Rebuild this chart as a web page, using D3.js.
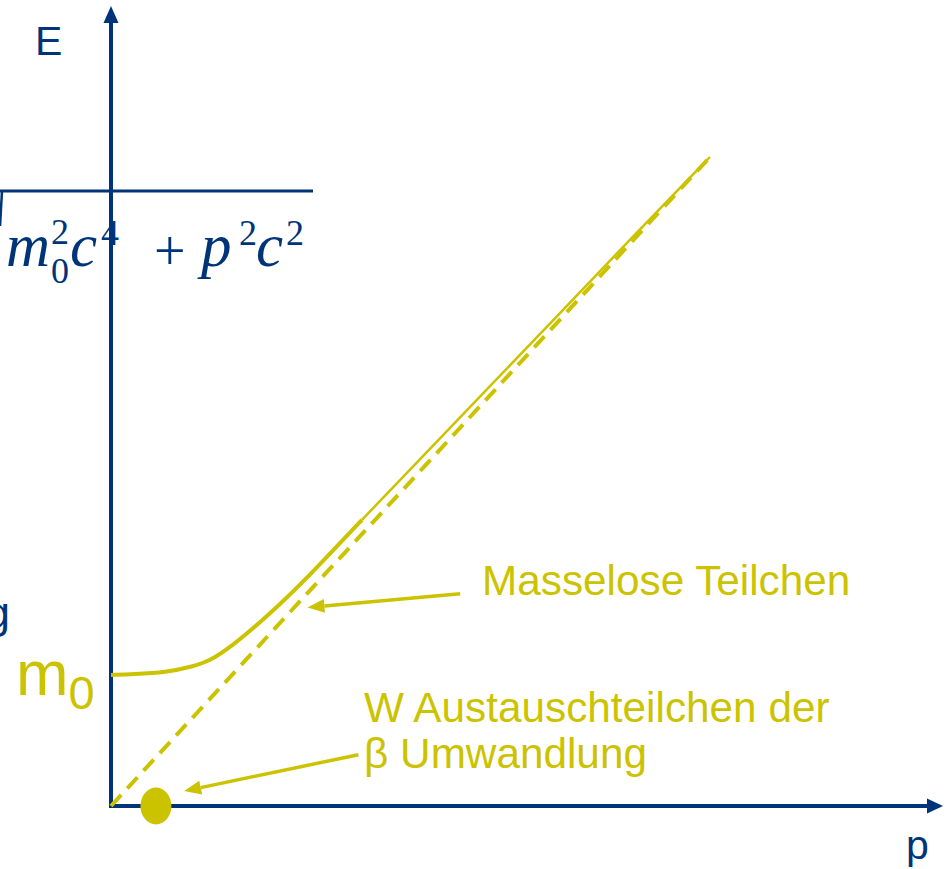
<!DOCTYPE html>
<html>
<head>
<meta charset="utf-8">
<script src="https://cdn.jsdelivr.net/npm/d3@7"></script>
<style>
  html, body { margin: 0; padding: 0; background: #fff; overflow: hidden; }
</style>
</head>
<body>
<div id="chart"></div>
<script>
// Energy-momentum relation, values (p and E in arbitrary units)
const massiveLow = [[0, 2.02], [0.37, 2.03], [0.93, 2.06], [1.32, 2.14], [1.65, 2.23], [2.04, 2.48], [2.44, 2.79], [2.82, 3.11], [3.21, 3.45], [4.19, 4.41]];
const massiveHigh = [[4.19, 4.41], [5.79, 5.95], [7.16, 7.27], [8.5, 8.57], [10, 10]];
const masslessLine = [[0, 0], [10, 10]];
const wParticle = [0.75, 0];
// annotation arrows: [tail, tip] in data units
const arrowMassless = [[5.83, 3.27], [3.28, 3.06]];
const arrowW = [[4.13, 0.79], [1.22, 0.23]];
const labelMassless = "Masselose Teilchen";
const labelW = ["W Austauschteilchen der", "\u03b2 Umwandlung"];

const BLUE = "#003479";
const YELLOW = "#CCC300";
const SANS = "'Liberation Sans', Arial, sans-serif";
const SERIF = "'Liberation Serif', 'Times New Roman', serif";

const width = 948, height = 869;

const svg = d3.select("#chart")
    .append("svg")
    .attr("width", width)
    .attr("height", height);

// scales: p -> x, E -> y
const x = d3.scaleLinear().domain([0, 10]).range([111, 710]);
const y = d3.scaleLinear().domain([0, 10]).range([806, 157]);

// formula under the root bar (left part of the slide is cut off)
svg.append("line")
    .attr("x1", 0).attr("x2", 313)
    .attr("y1", 191).attr("y2", 191)
    .style("stroke", BLUE).style("stroke-width", 3);
svg.append("line")
    .attr("x1", 2).attr("x2", 0)
    .attr("y1", 191).attr("y2", 226)
    .style("stroke", BLUE).style("stroke-width", 2.5);

const formulaParts = [
    { t: "m", x: 6, y: 266, s: 61, it: true },
    { t: "2", x: 51, y: 244, s: 36 },
    { t: "0", x: 51, y: 283, s: 36 },
    { t: "c", x: 70, y: 266, s: 61, it: true },
    { t: "4", x: 101, y: 245, s: 36 },
    { t: "+", x: 154, y: 270, s: 56 },
    { t: "p", x: 201, y: 266, s: 61, it: true },
    { t: "2", x: 239, y: 245, s: 36 },
    { t: "c", x: 256, y: 266, s: 61, it: true },
    { t: "2", x: 286, y: 245, s: 36 }
];
svg.append("text")
    .style("font-family", SERIF)
    .style("fill", BLUE)
    .selectAll("tspan")
    .data(formulaParts)
    .join("tspan")
    .attr("x", d => d.x)
    .attr("y", d => d.y)
    .style("font-style", d => d.it ? "italic" : "normal")
    .style("font-size", d => d.s + "px")
    .text(d => d.t);

// clipped "g" at the left edge
svg.append("text")
    .attr("x", 10).attr("y", 628)
    .attr("text-anchor", "end")
    .style("font-family", SANS)
    .style("font-size", "44px")
    .style("fill", BLUE)
    .text("g");

// axes with arrow heads
const axisW = 4;
svg.append("line")
    .attr("x1", x(0)).attr("x2", x(0))
    .attr("y1", y(0) + 2).attr("y2", 20)
    .style("stroke", BLUE).style("stroke-width", axisW);
svg.append("path")
    .attr("d", `M${x(0)},6 L${x(0) - 7.5},23 L${x(0) + 7.5},23 Z`)
    .style("fill", BLUE);
svg.append("line")
    .attr("x1", x(0) - 2).attr("x2", 930)
    .attr("y1", y(0)).attr("y2", y(0))
    .style("stroke", BLUE).style("stroke-width", axisW);
svg.append("path")
    .attr("d", `M943,${y(0)} L927,${y(0) - 7.5} L927,${y(0) + 7.5} Z`)
    .style("fill", BLUE);

svg.append("text")
    .attr("x", 35).attr("y", 55)
    .style("font-family", SANS)
    .style("font-size", "41px")
    .style("fill", BLUE)
    .text("E");
svg.append("text")
    .attr("x", 906).attr("y", 859)
    .style("font-family", SANS)
    .style("font-size", "41px")
    .style("fill", BLUE)
    .text("p");

// massless particles: E = pc
const line = d3.line().x(d => x(d[0])).y(d => y(d[1]));
svg.append("path")
    .datum(masslessLine)
    .attr("d", line)
    .style("fill", "none")
    .style("stroke", YELLOW)
    .style("stroke-width", 4)
    .style("stroke-dasharray", "15,9");

// massive particle curve
const smooth = d3.line().curve(d3.curveBasis).x(d => x(d[0])).y(d => y(d[1]));
svg.append("path")
    .datum(massiveLow)
    .attr("d", smooth)
    .style("fill", "none")
    .style("stroke", YELLOW)
    .style("stroke-width", 4);
svg.append("path")
    .datum(massiveHigh)
    .attr("d", smooth)
    .style("fill", "none")
    .style("stroke", YELLOW)
    .style("stroke-width", 2.5);

// m0 label
const m0 = svg.append("text")
    .attr("x", 16).attr("y", 695)
    .style("font-family", SANS)
    .style("fill", YELLOW);
m0.append("tspan").style("font-size", "63px").text("m");
m0.append("tspan").attr("dy", 14).style("font-size", "47px").text("0");

// W particle dot
svg.append("ellipse")
    .attr("cx", x(wParticle[0]))
    .attr("cy", y(wParticle[1]))
    .attr("rx", 15.5)
    .attr("ry", 18.5)
    .style("fill", YELLOW);

// annotation arrows
function drawArrow(a) {
    const x1 = x(a[0][0]), y1 = y(a[0][1]);
    const x2 = x(a[1][0]), y2 = y(a[1][1]);
    const ang = Math.atan2(y2 - y1, x2 - x1);
    const len = 17, half = 7;
    const bx = x2 - len * Math.cos(ang), by = y2 - len * Math.sin(ang);
    svg.append("line")
        .attr("x1", x1).attr("y1", y1)
        .attr("x2", bx).attr("y2", by)
        .style("stroke", YELLOW).style("stroke-width", 3.5);
    svg.append("path")
        .attr("d", `M${x2},${y2} L${bx - half * Math.sin(ang)},${by + half * Math.cos(ang)} L${bx + half * Math.sin(ang)},${by - half * Math.cos(ang)} Z`)
        .style("fill", YELLOW);
}
drawArrow(arrowMassless);
drawArrow(arrowW);

// annotation labels
svg.append("text")
    .attr("x", 482).attr("y", 595)
    .style("font-family", SANS)
    .style("font-size", "42.3px")
    .style("fill", YELLOW)
    .text(labelMassless);
svg.append("g").selectAll("text")
    .data(labelW)
    .join("text")
    .attr("x", 364)
    .attr("y", (d, i) => 722 + i * 46)
    .style("font-family", SANS)
    .style("font-size", "42.3px")
    .style("fill", YELLOW)
    .text(d => d);
</script>
</body>
</html>
